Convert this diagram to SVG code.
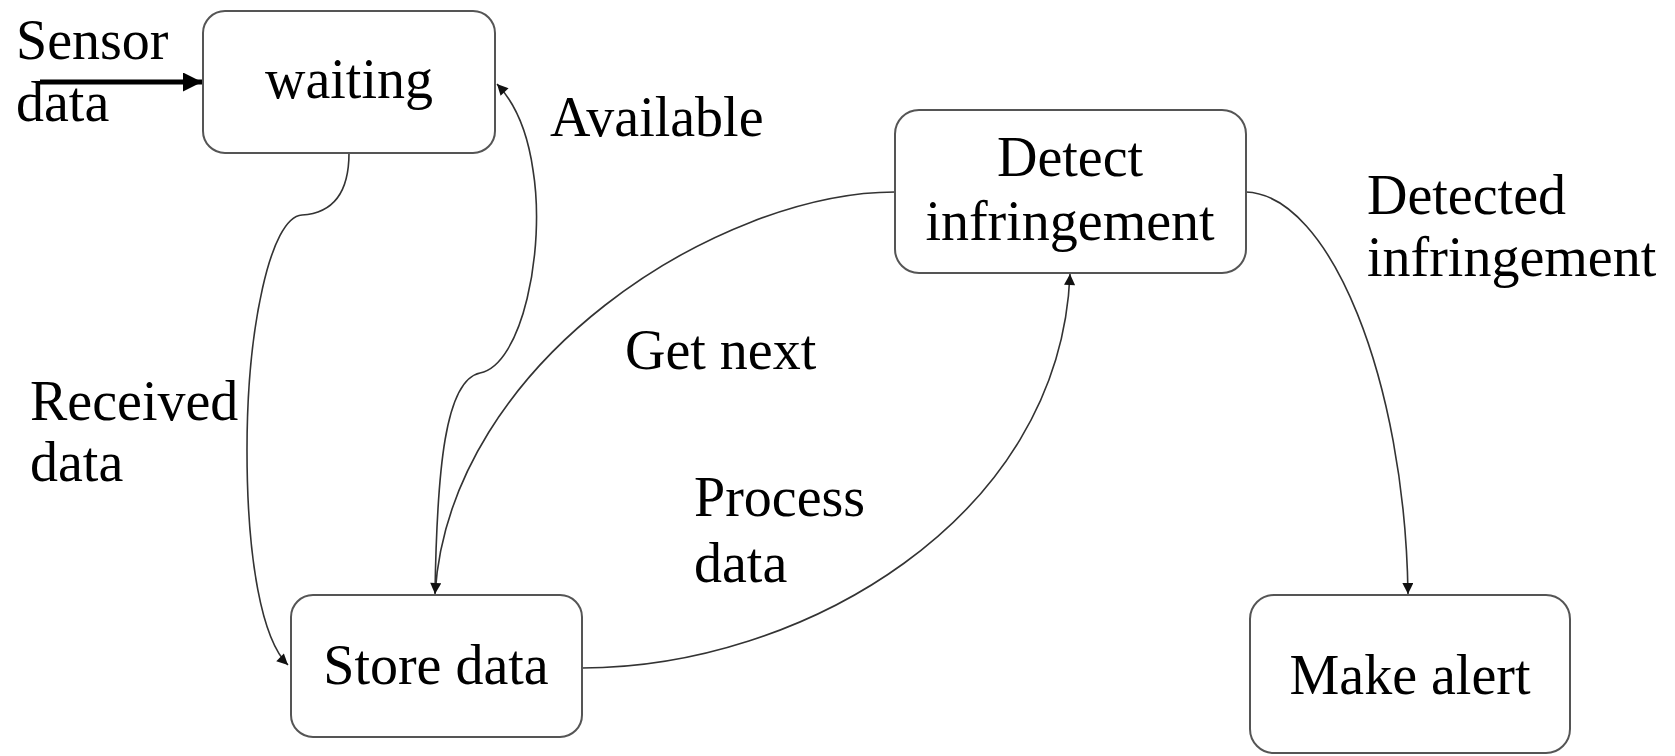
<svg xmlns="http://www.w3.org/2000/svg" width="1675" height="756" viewBox="0 0 1675 756">
<defs>
<marker id="arr" viewBox="0 0 10 10" refX="10" refY="5" markerWidth="12" markerHeight="11" markerUnits="userSpaceOnUse" orient="auto"><path d="M0,0 L10,5 L0,10 Z" fill="#111"/></marker>
<marker id="arrBig" viewBox="0 0 10 10" refX="10" refY="5" markerWidth="19" markerHeight="19" markerUnits="userSpaceOnUse" orient="auto"><path d="M0,0 L10,5 L0,10 Z" fill="#000"/></marker>
</defs>
<style>
.box{fill:#fff;stroke:#555;stroke-width:2}
.t{font-family:"Liberation Serif","Times New Roman",serif;font-size:56px;fill:#000}
.c{text-anchor:middle}
.edge{fill:none;stroke:#333;stroke-width:1.6}
</style>
<rect width="1675" height="756" fill="#fff"/>
<g id="connectors">
<line x1="40" y1="82" x2="202" y2="82" stroke="#000" stroke-width="5" marker-end="url(#arrBig)"/>
<path class="edge" d="M349,153 C349,190 335,213 302,215 C270,217 247,330 247,450 C247,560 262,640 288,665" marker-end="url(#arr)"/>
<path class="edge" d="M435,593 C437,470 445,380 480,373 C522,365 546,250 533,170 C528,135 516,104 497,84" marker-end="url(#arr)"/>
<path class="edge" d="M895,192 C720,192 450,360 435,594" marker-end="url(#arr)"/>
<path class="edge" d="M582,668 C800,668 1060,520 1070,274" marker-end="url(#arr)"/>
<path class="edge" d="M1246,192 C1330,195 1405,380 1408,594" marker-end="url(#arr)"/>
</g>
<g id="waiting">
<rect class="box" x="203" y="11" width="292" height="142" rx="22"/>
<text class="t c" x="349" y="98">waiting</text>
</g>
<g id="store">
<rect class="box" x="291" y="595" width="291" height="142" rx="22"/>
<text class="t c" x="436" y="684">Store data</text>
</g>
<g id="detect">
<rect class="box" x="895" y="110" width="351" height="163" rx="24"/>
<text class="t c" x="1070" y="176">Detect</text>
<text class="t c" x="1070" y="240">infringement</text>
</g>
<g id="alert">
<rect class="box" x="1250" y="595" width="320" height="158" rx="24"/>
<text class="t c" x="1410" y="694">Make alert</text>
</g>
<g id="labels">
<text class="t" x="16" y="59">Sensor</text>
<text class="t" x="16" y="121">data</text>
<text class="t" x="550" y="136">Available</text>
<text class="t" x="1367" y="214">Detected</text>
<text class="t" x="1367" y="276">infringement</text>
<text class="t" x="625" y="369">Get next</text>
<text class="t" x="30" y="420">Received</text>
<text class="t" x="30" y="481">data</text>
<text class="t" x="694" y="516">Process</text>
<text class="t" x="694" y="582">data</text>
</g>
</svg>
